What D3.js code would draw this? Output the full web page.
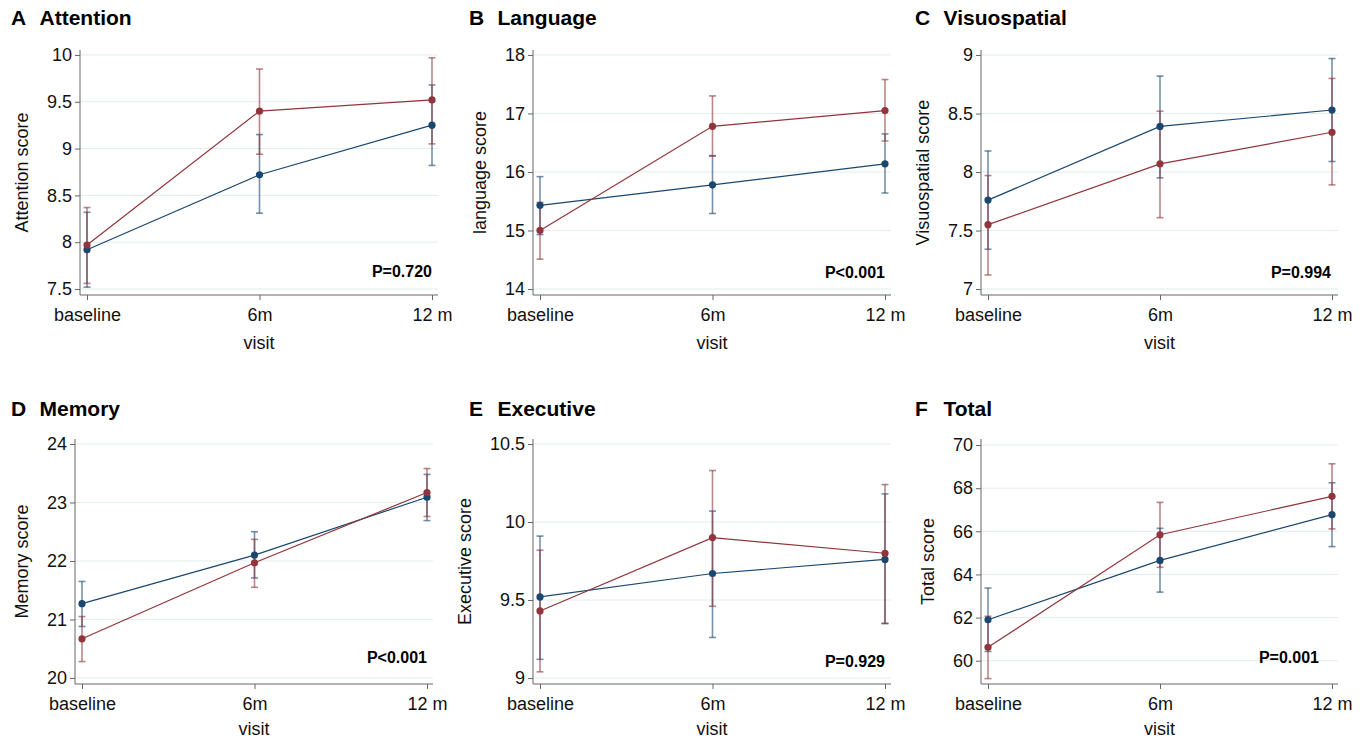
<!DOCTYPE html>
<html>
<head>
<meta charset="utf-8">
<script src="https://cdn.jsdelivr.net/npm/d3@7"></script>
<style>
  body { margin: 0; background: #fff; }
  svg { font-family: "Liberation Sans", Arial, sans-serif; }
</style>
</head>
<body>
<svg width="1367" height="740"></svg>
<script>
// visits on the x axis
const visits = ['baseline', '6m', '12 m'];

const letters = ['A', 'B', 'C', 'D', 'E', 'F'];
const titles = ['Attention', 'Language', 'Visuospatial', 'Memory', 'Executive', 'Total'];
const yLabels = ['Attention score', 'language score', 'Visuospatial score', 'Memory score', 'Executive score', 'Total score'];
const pValues = ['P=0.720', 'P<0.001', 'P=0.994', 'P<0.001', 'P=0.929', 'P=0.001'];

const yTicks = [
    [7.5, 8, 8.5, 9, 9.5, 10],
    [14, 15, 16, 17, 18],
    [7, 7.5, 8, 8.5, 9],
    [20, 21, 22, 23, 24],
    [9, 9.5, 10, 10.5],
    [60, 62, 64, 66, 68, 70]
];
const yDomains = [
    [7.436, 10.053],
    [13.897, 18.085],
    [6.949, 9.043],
    [19.897, 24.085],
    [8.962, 10.532],
    [58.92, 70.28]
];

// red group: mean and 95% CI
const redMean = [
    [7.97, 9.40, 9.52],
    [15.00, 16.78, 17.05],
    [7.55, 8.07, 8.34],
    [20.67, 21.97, 23.17],
    [9.43, 9.90, 9.80],
    [60.62, 65.84, 67.62]
];
const redLow = [
    [7.56, 8.94, 9.05],
    [14.51, 16.27, 16.53],
    [7.12, 7.61, 7.89],
    [20.28, 21.55, 22.76],
    [9.04, 9.46, 9.35],
    [59.17, 64.33, 66.11]
];
const redHigh = [
    [8.37, 9.85, 9.97],
    [15.48, 17.30, 17.58],
    [7.97, 8.52, 8.80],
    [21.05, 22.37, 23.58],
    [9.82, 10.33, 10.24],
    [62.06, 67.34, 69.13]
];

// blue group: mean and 95% CI
const blueMean = [
    [7.92, 8.72, 9.25],
    [15.43, 15.78, 16.14],
    [7.76, 8.39, 8.53],
    [21.27, 22.10, 23.09],
    [9.52, 9.67, 9.76],
    [61.90, 64.65, 66.77]
];
const blueLow = [
    [7.52, 8.31, 8.82],
    [14.93, 15.29, 15.64],
    [7.34, 7.95, 8.09],
    [20.88, 21.71, 22.69],
    [9.12, 9.26, 9.35],
    [60.43, 63.18, 65.29]
];
const blueHigh = [
    [8.32, 9.15, 9.68],
    [15.92, 16.28, 16.65],
    [8.18, 8.82, 8.97],
    [21.65, 22.50, 23.48],
    [9.91, 10.07, 10.18],
    [63.37, 66.14, 68.25]
];

// panel layout (pixels)
const axisX = [80, 533, 981, 75, 533, 981];
const rightX = [438, 891, 1338, 433, 891, 1338];
const rowY = [0, 0, 0, 389, 389, 389];
const titleX = [11, 469, 915, 11, 469, 915];
const titleY = [25, 25, 25, 27, 27, 27];
const visitY = [349, 349, 349, 346, 346, 346];
const pY = [277, 278, 278, 274, 278, 274];
const pDx = [0, 0, -1, 0, 0, -13];

const plotTop = 50;
const plotBottom = 295;

const red = '#90353b';
const blue = '#1a476f';

const svg = d3.select('svg');

titles.forEach((title, i) => {
    const g = svg.append('g').attr('transform', `translate(0, ${rowY[i]})`);

    const x = d3.scalePoint()
        .domain(visits)
        .range([axisX[i] + 7, rightX[i] - 6]);

    const y = d3.scaleLinear()
        .domain(yDomains[i])
        .range([plotBottom, plotTop]);

    // title
    const t = g.append('text')
        .attr('x', titleX[i])
        .attr('y', titleY[i])
        .attr('font-size', 21)
        .attr('font-weight', 'bold')
        .attr('fill', '#000');
    t.append('tspan').text(letters[i]);
    t.append('tspan').attr('x', titleX[i] + 28.5).text(title);

    // gridlines
    g.selectAll('.grid')
        .data(yTicks[i])
        .enter()
        .append('line')
        .attr('x1', axisX[i])
        .attr('x2', rightX[i])
        .attr('y1', d => y(d))
        .attr('y2', d => y(d))
        .attr('stroke', '#e3ecef')
        .attr('stroke-width', 1);

    // y axis
    const yAxis = g.append('g')
        .attr('transform', `translate(${axisX[i]}, 0)`)
        .call(d3.axisLeft(y).tickValues(yTicks[i]).tickSize(5).tickPadding(3).tickFormat(d3.format('')));
    yAxis.select('.domain').attr('d', `M0,${plotTop}V${plotBottom}`);
    yAxis.selectAll('path, line').attr('stroke', '#666');
    yAxis.selectAll('text')
        .attr('font-size', 18)
        .attr('fill', '#111')
        .attr('font-family', '"Liberation Sans", Arial, sans-serif');

    // x axis
    const xAxis = g.append('g')
        .attr('transform', `translate(0, ${plotBottom})`)
        .call(d3.axisBottom(x).tickSize(5).tickPadding(8));
    xAxis.select('.domain').attr('d', `M${axisX[i]},0H${rightX[i]}`);
    xAxis.selectAll('path, line').attr('stroke', '#666');
    xAxis.selectAll('text')
        .attr('font-size', 18)
        .attr('fill', '#111')
        .attr('font-family', '"Liberation Sans", Arial, sans-serif');

    // x title
    g.append('text')
        .attr('x', (axisX[i] + rightX[i]) / 2)
        .attr('y', visitY[i])
        .attr('text-anchor', 'middle')
        .attr('font-size', 18)
        .attr('fill', '#111')
        .text('visit');

    // y title, placed left of widest tick label
    let widest = 0;
    yAxis.selectAll('text').each(function () {
        widest = Math.max(widest, this.getComputedTextLength());
    });
    const yTitleX = axisX[i] - 8 - widest - 19;
    g.append('text')
        .attr('transform', `translate(${yTitleX}, ${(plotTop + plotBottom) / 2}) rotate(-90)`)
        .attr('text-anchor', 'middle')
        .attr('font-size', 18)
        .attr('fill', '#111')
        .text(yLabels[i]);

    const series = [
        { color: blue, mean: blueMean[i], lo: blueLow[i], hi: blueHigh[i] },
        { color: red, mean: redMean[i], lo: redLow[i], hi: redHigh[i] }
    ];

    // error bars
    series.forEach(s => {
        const bars = g.append('g')
            .attr('stroke', s.color)
            .attr('stroke-opacity', 0.6)
            .attr('stroke-width', 1.6);
        visits.forEach((v, j) => {
            bars.append('line')
                .attr('x1', x(v)).attr('x2', x(v))
                .attr('y1', y(s.lo[j])).attr('y2', y(s.hi[j]));
            bars.append('line')
                .attr('x1', x(v) - 3.5).attr('x2', x(v) + 3.5)
                .attr('y1', y(s.lo[j])).attr('y2', y(s.lo[j]));
            bars.append('line')
                .attr('x1', x(v) - 3.5).attr('x2', x(v) + 3.5)
                .attr('y1', y(s.hi[j])).attr('y2', y(s.hi[j]));
        });
    });

    // lines and markers
    const line = d3.line()
        .x((d, j) => x(visits[j]))
        .y(d => y(d));

    series.forEach(s => {
        g.append('path')
            .attr('d', line(s.mean))
            .attr('fill', 'none')
            .attr('stroke', s.color)
            .attr('stroke-width', 1.2);
        g.selectAll(null)
            .data(s.mean)
            .enter()
            .append('circle')
            .attr('cx', (d, j) => x(visits[j]))
            .attr('cy', d => y(d))
            .attr('r', 3.6)
            .attr('fill', s.color);
    });

    // p-value
    g.append('text')
        .attr('x', x('12 m') + pDx[i])
        .attr('y', pY[i])
        .attr('text-anchor', 'end')
        .attr('font-size', 16)
        .attr('font-weight', 'bold')
        .attr('fill', '#000')
        .text(pValues[i]);
});
</script>
</body>
</html>
